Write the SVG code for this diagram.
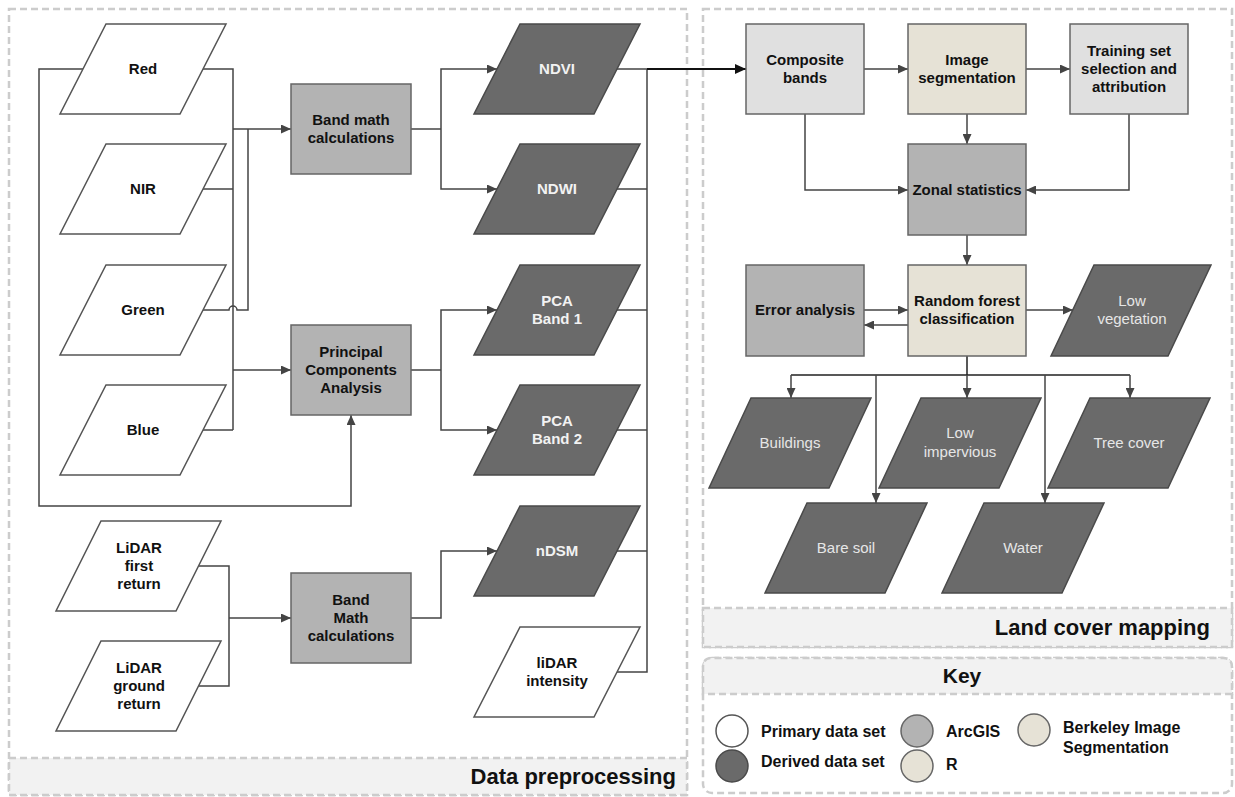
<svg xmlns="http://www.w3.org/2000/svg" width="1235" height="797" viewBox="0 0 1235 797">
<style>
.panel{fill:#ffffff;stroke:#cccccc;stroke-width:2.5;stroke-dasharray:7 4}
.bar{fill:#f2f2f2;stroke:#cccccc;stroke-width:2.5;stroke-dasharray:7 4}
.prim{fill:#ffffff;stroke:#555555;stroke-width:1.5}
.der{fill:#6a6a6a;stroke:#4a4a4a;stroke-width:1.5}
.arc{fill:#b3b3b3;stroke:#666666;stroke-width:1.5}
.lgt{fill:#e0e0e0;stroke:#666666;stroke-width:1.5}
.bei{fill:#e6e2d6;stroke:#666666;stroke-width:1.5}
.t{font-family:"Liberation Sans",Arial,sans-serif;font-size:15px;font-weight:bold;fill:#111111;text-anchor:middle}
.tw{font-family:"Liberation Sans",Arial,sans-serif;font-size:15px;font-weight:bold;fill:#f2f2f2;text-anchor:middle}
.tn{font-family:"Liberation Sans",Arial,sans-serif;font-size:15px;fill:#e6e6e6;text-anchor:middle}
.title{font-family:"Liberation Sans",Arial,sans-serif;font-size:22px;font-weight:bold;fill:#111111}
.key{font-family:"Liberation Sans",Arial,sans-serif;font-size:16px;font-weight:bold;fill:#111111}
.c{fill:none;stroke:#444444;stroke-width:1.5}
.ca{fill:none;stroke:#444444;stroke-width:1.5;marker-end:url(#arr)}
.ck{fill:none;stroke:#111111;stroke-width:2;marker-end:url(#arrk)}
</style>
<defs>
<marker id="arr" markerUnits="userSpaceOnUse" markerWidth="10" markerHeight="9" refX="10" refY="4.5" orient="auto">
<path d="M0,0 L10,4.5 L0,9 z" fill="#444444"/>
</marker>
<marker id="arrk" markerUnits="userSpaceOnUse" markerWidth="11" markerHeight="10" refX="11" refY="5" orient="auto">
<path d="M0,0 L11,5 L0,10 z" fill="#111111"/>
</marker>
</defs>

<g id="panels">
<rect class="panel" x="9" y="9" width="678" height="786"/>
<rect class="bar" x="9" y="758" width="678" height="37"/>
<text class="title" x="676" y="784" text-anchor="end">Data preprocessing</text>
<rect class="panel" x="703" y="9" width="529" height="638"/>
<rect class="bar" x="703" y="608" width="529" height="39"/>
<text class="title" x="1210" y="635" text-anchor="end">Land cover mapping</text>
<rect class="panel" x="703" y="658" width="529" height="135" rx="9"/>
<path class="bar" d="M703,694 V667 Q703,658 712,658 H1223 Q1232,658 1232,667 V694 Z"/>
<text class="title" x="962" y="683" text-anchor="middle" style="font-size:21px">Key</text>
</g>

<g id="connectors">
<path class="ca" d="M83,69 H39 V506 H351 V415"/>
<path class="c" d="M203,69 H233 V430"/>
<path class="c" d="M203,189 H233"/>
<path class="c" d="M203,430 H233"/>
<path class="c" d="M203,310 H229 A4,4 0 0 1 237,310 H248 V129"/>
<path class="ca" d="M233,129 H291"/>
<path class="ca" d="M233,370 H291"/>
<path class="c" d="M199,566 H229 V686 H199"/>
<path class="ca" d="M229,618 H291"/>
<path class="c" d="M411,129 H441"/>
<path class="ca" d="M441,129 V69 H497"/>
<path class="ca" d="M441,129 V189 H497"/>
<path class="c" d="M411,370 H441"/>
<path class="ca" d="M441,370 V310 H497"/>
<path class="ca" d="M441,370 V430 H497"/>
<path class="ca" d="M411,618 H441 V551 H497"/>
<path class="c" d="M617,69 H647 V672 H617"/>
<path class="c" d="M617,189 H647"/>
<path class="c" d="M617,310 H647"/>
<path class="c" d="M617,430 H647"/>
<path class="c" d="M617,551 H647"/>
<path class="ck" d="M647,69 H746"/>
<path class="ca" d="M864,69 H908"/>
<path class="ca" d="M1026,69 H1070"/>
<path class="ca" d="M967,114 V144"/>
<path class="ca" d="M805,114 V190 H908"/>
<path class="ca" d="M1129,114 V190 H1026"/>
<path class="ca" d="M967,235 V265"/>
<path class="ca" d="M864,310 H908"/>
<path class="ca" d="M908,325 H864"/>
<path class="ca" d="M1026,310 H1073"/>
<path class="c" d="M967,356 V375 M791,375 H1130" style="stroke:#222222"/>
<path class="ca" d="M791,375 V398"/>
<path class="ca" d="M967,375 V398"/>
<path class="ca" d="M1130,375 V398"/>
<path class="ca" d="M876,375 V503"/>
<path class="ca" d="M1045,375 V503"/>
</g>

<g id="red"><polygon class="prim" points="106,24 226,24 180,114 60,114"/><text class="t" x="143" y="74">Red</text></g>
<g id="nir"><polygon class="prim" points="106,144 226,144 180,234 60,234"/><text class="t" x="143" y="194">NIR</text></g>
<g id="green"><polygon class="prim" points="106,265 226,265 180,355 60,355"/><text class="t" x="143" y="315">Green</text></g>
<g id="blue"><polygon class="prim" points="106,385 226,385 180,475 60,475"/><text class="t" x="143" y="435">Blue</text></g>
<g id="lidar-first"><polygon class="prim" points="101,521 221,521 176,611 56,611"/><text class="t" x="139" y="553">LiDAR</text><text class="t" x="139" y="571">first</text><text class="t" x="139" y="589">return</text></g>
<g id="lidar-ground"><polygon class="prim" points="101,641 221,641 176,731 56,731"/><text class="t" x="139" y="673">LiDAR</text><text class="t" x="139" y="691">ground</text><text class="t" x="139" y="709">return</text></g>

<g id="band-math"><rect class="arc" x="291" y="84" width="120" height="90"/><text class="t" x="351" y="125">Band math</text><text class="t" x="351" y="143">calculations</text></g>
<g id="pca"><rect class="arc" x="291" y="325" width="120" height="90"/><text class="t" x="351" y="357">Principal</text><text class="t" x="351" y="375">Components</text><text class="t" x="351" y="393">Analysis</text></g>
<g id="band-math-lidar"><rect class="arc" x="291" y="573" width="120" height="90"/><text class="t" x="351" y="605">Band</text><text class="t" x="351" y="623">Math</text><text class="t" x="351" y="641">calculations</text></g>

<g id="ndvi"><polygon class="der" points="520,24 640,24 594,114 474,114"/><text class="tw" x="557" y="74">NDVI</text></g>
<g id="ndwi"><polygon class="der" points="520,144 640,144 594,234 474,234"/><text class="tw" x="557" y="194">NDWI</text></g>
<g id="pca1"><polygon class="der" points="520,265 640,265 594,355 474,355"/><text class="tw" x="557" y="306">PCA</text><text class="tw" x="557" y="324">Band 1</text></g>
<g id="pca2"><polygon class="der" points="520,385 640,385 594,475 474,475"/><text class="tw" x="557" y="426">PCA</text><text class="tw" x="557" y="444">Band 2</text></g>
<g id="ndsm"><polygon class="der" points="520,506 640,506 594,596 474,596"/><text class="tw" x="557" y="556">nDSM</text></g>
<g id="lidar-intensity"><polygon class="prim" points="520,627 640,627 594,717 474,717"/><text class="t" x="557" y="668">liDAR</text><text class="t" x="557" y="686">intensity</text></g>

<g id="composite"><rect class="lgt" x="746" y="24" width="118" height="90"/><text class="t" x="805" y="65">Composite</text><text class="t" x="805" y="83">bands</text></g>
<g id="segmentation"><rect class="bei" x="908" y="24" width="118" height="90"/><text class="t" x="967" y="65">Image</text><text class="t" x="967" y="83">segmentation</text></g>
<g id="training"><rect class="lgt" x="1070" y="24" width="118" height="90"/><text class="t" x="1129" y="56">Training set</text><text class="t" x="1129" y="74">selection and</text><text class="t" x="1129" y="92">attribution</text></g>
<g id="zonal"><rect class="arc" x="908" y="144" width="118" height="91"/><text class="t" x="967" y="195">Zonal statistics</text></g>
<g id="error"><rect class="arc" x="746" y="265" width="118" height="91"/><text class="t" x="805" y="315">Error analysis</text></g>
<g id="random-forest"><rect class="bei" x="908" y="265" width="118" height="91"/><text class="t" x="967" y="306">Random forest</text><text class="t" x="967" y="324">classification</text></g>
<g id="low-vegetation"><polygon class="der" points="1094,265 1211,265 1168,356 1051,356"/><text class="tn" x="1132" y="306">Low</text><text class="tn" x="1132" y="324">vegetation</text></g>
<g id="buildings"><polygon class="der" points="751,398 871,398 829,488 709,488"/><text class="tn" x="790" y="448">Buildings</text></g>
<g id="low-impervious"><polygon class="der" points="921,398 1041,398 999,488 879,488"/><text class="tn" x="960" y="438">Low</text><text class="tn" x="960" y="457">impervious</text></g>
<g id="tree-cover"><polygon class="der" points="1090,398 1210,398 1168,488 1048,488"/><text class="tn" x="1129" y="448">Tree cover</text></g>
<g id="bare-soil"><polygon class="der" points="807,503 927,503 885,593 765,593"/><text class="tn" x="846" y="553">Bare soil</text></g>
<g id="water"><polygon class="der" points="984,503 1104,503 1062,593 942,593"/><text class="tn" x="1023" y="553">Water</text></g>

<g id="key">
<circle class="prim" cx="732" cy="731" r="16"/>
<circle class="der" cx="732" cy="766" r="16"/>
<circle class="arc" cx="917" cy="731" r="16"/>
<circle class="bei" cx="917" cy="766" r="16"/>
<circle class="bei" cx="1034" cy="730" r="16"/>
<text class="key" x="761" y="737">Primary data set</text>
<text class="key" x="761" y="767">Derived data set</text>
<text class="key" x="946" y="737">ArcGIS</text>
<text class="key" x="946" y="770">R</text>
<text class="key" x="1063" y="733">Berkeley Image</text>
<text class="key" x="1063" y="753">Segmentation</text>
</g>
</svg>
